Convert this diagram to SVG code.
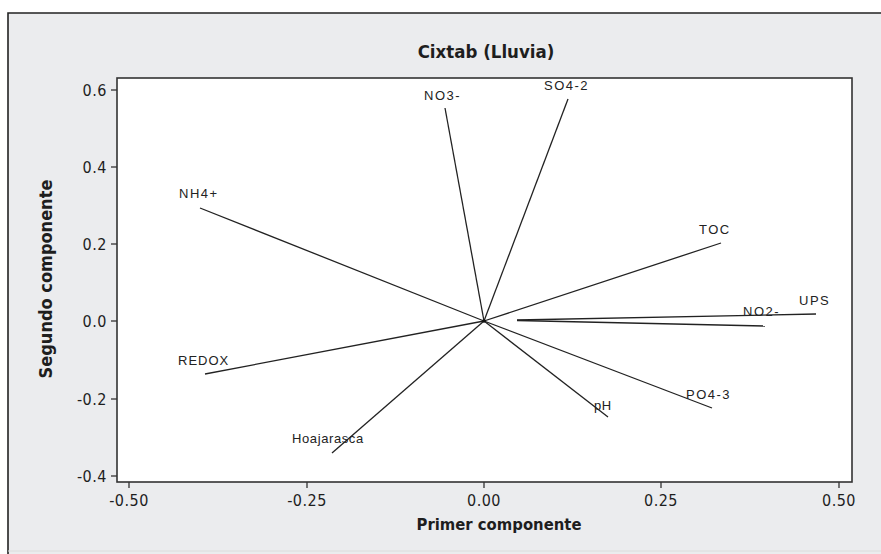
<svg xmlns="http://www.w3.org/2000/svg" width="881" height="554" viewBox="0 0 881 554">
<style>
.ax{font-family:"DejaVu Sans Condensed","DejaVu Sans","Liberation Sans",sans-serif;fill:#1e1e1e}
.tick{font-size:16px;letter-spacing:0.5px}
.title{font-size:18.5px;font-weight:bold}
.axt{font-size:16.5px;font-weight:bold}
.axty{font-size:18px;font-weight:bold}
.lbl{font-family:"Liberation Sans","DejaVu Sans",sans-serif;font-size:13px;fill:#222;letter-spacing:1.5px}
.vec{stroke:#222;stroke-width:1.3;fill:none}
.tk{stroke:#333;stroke-width:1.3}
</style>
<rect x="0" y="0" width="881" height="554" fill="#ffffff"/>
<rect x="8" y="13" width="880" height="545" fill="#ebecee"/>
<path d="M8 554 V13 H881" fill="none" stroke="#222" stroke-width="1.6"/>
<line x1="8" y1="551" x2="881" y2="551" stroke="#dcdcdc" stroke-width="1"/>
<text class="ax title" x="486" y="58" text-anchor="middle">Cixtab (Lluvia)</text>
<rect id="plot" x="117" y="78" width="735" height="404" fill="#ffffff" stroke="#333" stroke-width="1.6"/>
<g id="yaxis">
<line class="tk" x1="111" y1="90" x2="117" y2="90"/>
<line class="tk" x1="111" y1="167" x2="117" y2="167"/>
<line class="tk" x1="111" y1="244" x2="117" y2="244"/>
<line class="tk" x1="111" y1="321" x2="117" y2="321"/>
<line class="tk" x1="111" y1="399" x2="117" y2="399"/>
<line class="tk" x1="111" y1="476" x2="117" y2="476"/>
<text class="ax tick" x="107" y="96" text-anchor="end">0.6</text>
<text class="ax tick" x="107" y="173" text-anchor="end">0.4</text>
<text class="ax tick" x="107" y="250" text-anchor="end">0.2</text>
<text class="ax tick" x="107" y="327" text-anchor="end">0.0</text>
<text class="ax tick" x="107" y="405" text-anchor="end">-0.2</text>
<text class="ax tick" x="107" y="482" text-anchor="end">-0.4</text>
<text class="ax axty" transform="translate(52 279) rotate(-90)" text-anchor="middle">Segundo componente</text>
</g>
<g id="xaxis">
<line class="tk" x1="129" y1="482" x2="129" y2="488"/>
<line class="tk" x1="307" y1="482" x2="307" y2="488"/>
<line class="tk" x1="484" y1="482" x2="484" y2="488"/>
<line class="tk" x1="661" y1="482" x2="661" y2="488"/>
<line class="tk" x1="839" y1="482" x2="839" y2="488"/>
<text class="ax tick" x="129" y="506" text-anchor="middle">-0.50</text>
<text class="ax tick" x="307" y="506" text-anchor="middle">-0.25</text>
<text class="ax tick" x="484" y="506" text-anchor="middle">0.00</text>
<text class="ax tick" x="661" y="506" text-anchor="middle">0.25</text>
<text class="ax tick" x="839" y="506" text-anchor="middle">0.50</text>
<text class="ax axt" x="499" y="530" text-anchor="middle">Primer componente</text>
</g>
<g id="connectors">
<line class="vec" x1="484" y1="321" x2="445" y2="108"/>
<line class="vec" x1="484" y1="321" x2="568" y2="99"/>
<line class="vec" x1="484" y1="321" x2="200" y2="208"/>
<line class="vec" x1="484" y1="321" x2="721" y2="243"/>
<line class="vec" x1="517" y1="320" x2="816" y2="314"/>
<line class="vec" x1="517" y1="320.5" x2="765" y2="326" stroke="#8a3322"/>
<line class="vec" x1="484" y1="321" x2="205" y2="374"/>
<line class="vec" x1="484" y1="321" x2="332" y2="453"/>
<line class="vec" x1="484" y1="321" x2="608" y2="417"/>
<line class="vec" x1="484" y1="321" x2="712" y2="408"/>
<circle cx="484" cy="321" r="1.8" fill="#111"/>
</g>
<g id="NO3"><text class="lbl" x="424" y="100">NO3-</text></g>
<g id="SO4"><text class="lbl" x="544" y="90">SO4-2</text></g>
<g id="NH4"><text class="lbl" x="179" y="198">NH4+</text></g>
<g id="TOC"><text class="lbl" x="699" y="234">TOC</text></g>
<g id="UPS"><text class="lbl" x="799" y="305">UPS</text></g>
<g id="NO2"><text class="lbl" x="743" y="316">NO2-</text></g>
<g id="REDOX"><text class="lbl" x="178" y="365" style="letter-spacing:1px">REDOX</text></g>
<g id="Hoajarasca"><text class="lbl" x="292" y="443" style="letter-spacing:0.6px">Hoajarasca</text></g>
<g id="pH"><text class="lbl" x="594" y="410" style="letter-spacing:0.5px">pH</text></g>
<g id="PO4"><text class="lbl" x="686" y="399">PO4-3</text></g>
</svg>
